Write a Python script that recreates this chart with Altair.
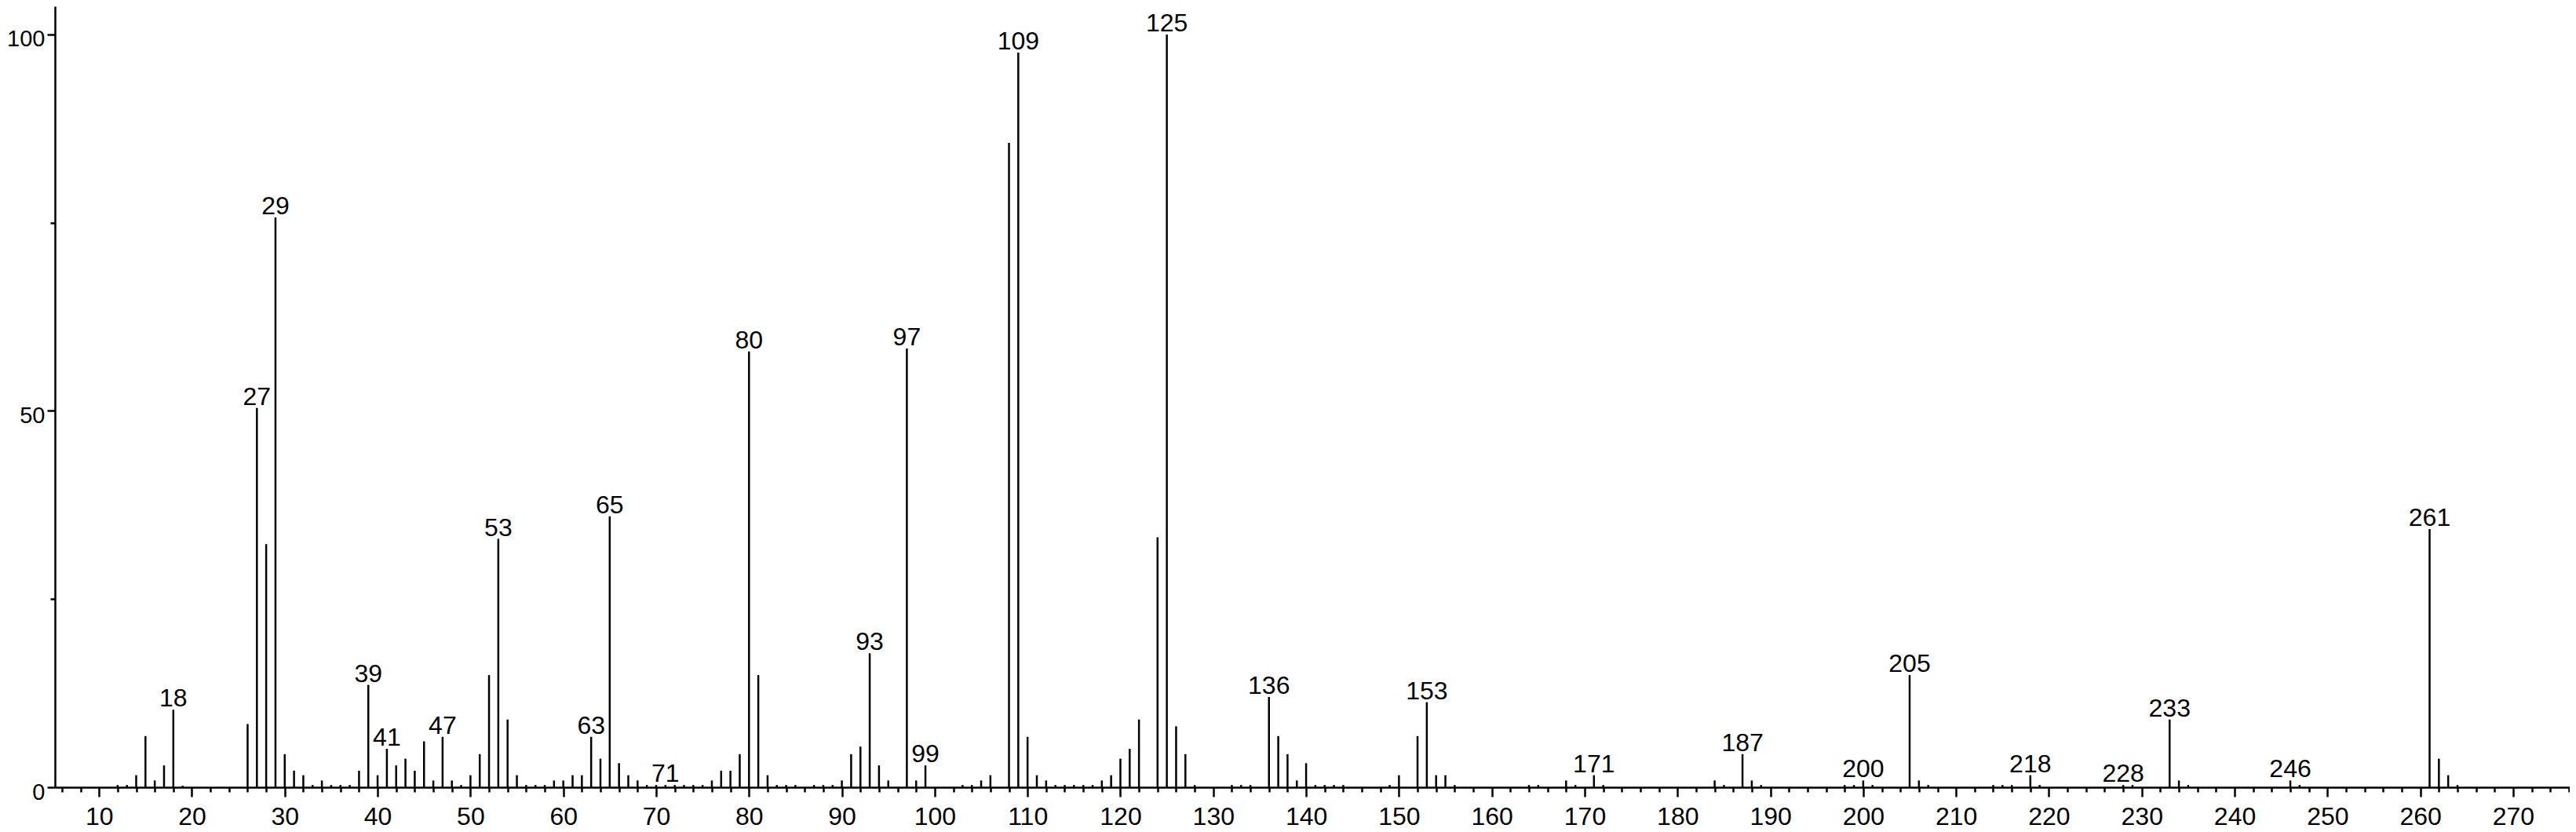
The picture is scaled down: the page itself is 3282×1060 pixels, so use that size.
import altair as alt
import pandas as pd

mz = [12, 13, 14, 15, 16, 17, 18, 19,
      26, 27, 28, 29, 30, 31, 32, 33, 34, 35, 36, 37, 38, 39, 40,
      41, 42, 43, 44, 45, 46, 47, 48, 49, 50,
      51, 52, 53, 54, 55, 56, 57, 58, 59, 60,
      61, 62, 63, 64, 65, 66, 67, 68, 69, 70,
      71, 72, 73, 74, 75, 76, 77, 78, 79, 80,
      81, 82, 83, 84, 85, 87, 88, 89, 90,
      91, 92, 93, 94, 95, 97, 98, 99,
      103, 104, 105, 106, 108, 109, 110,
      111, 112, 113, 114, 115, 116, 117, 118, 119, 120,
      121, 122, 124, 125, 126, 127, 128,
      132, 133, 134, 136, 137, 138, 139, 140,
      141, 142, 143, 144, 149, 150,
      152, 153, 154, 155, 156, 164, 165, 168, 169,
      171, 172, 184, 185, 187, 188, 189,
      198, 199, 200, 201, 205, 206, 207,
      214, 215, 216, 218, 219, 228, 229,
      233, 234, 235, 246, 247, 261, 262, 263, 264]

intensity = [0.3, 0.3, 1.6, 6.8, 0.9, 2.9, 10.3, 0.2,
             8.4, 50.4, 32.3, 75.7, 4.4, 2.2, 1.6, 0.3, 0.9, 0.3, 0.3, 0.3, 2.2, 13.6, 1.6,
             5.1, 2.9, 3.8, 2.2, 6.1, 0.9, 6.7, 0.9, 0.3, 1.6,
             4.4, 14.9, 33.0, 9.0, 1.6, 0.3, 0.3, 0.3, 0.9, 0.9,
             1.6, 1.6, 6.7, 3.8, 36.0, 3.2, 1.6, 0.9, 0.3, 0.3,
             0.3, 0.3, 0.3, 0.3, 0.3, 0.9, 2.2, 2.2, 4.4, 57.9,
             14.9, 1.6, 0.3, 0.3, 0.3, 0.3, 0.3, 0.3, 0.9,
             4.4, 5.4, 17.8, 2.9, 0.9, 58.3, 0.9, 2.9,
             0.3, 0.3, 0.9, 1.6, 85.6, 97.6, 6.7,
             1.6, 0.9, 0.3, 0.3, 0.3, 0.3, 0.3, 0.9, 1.6, 3.8,
             5.1, 9.0, 33.2, 100.0, 8.1, 4.4, 0.3,
             0.3, 0.3, 0.3, 12.0, 6.8, 4.4, 0.9, 3.2,
             0.3, 0.3, 0.3, 0.3, 0.3, 1.6,
             6.8, 11.3, 1.6, 1.6, 0.3, 0.3, 0.3, 0.9, 0.3,
             1.6, 0.3, 0.9, 0.3, 4.4, 0.9, 0.3,
             0.3, 0.3, 0.9, 0.3, 14.9, 0.9, 0.3,
             0.3, 0.3, 0.3, 1.6, 0.3, 0.3, 0.3,
             9.0, 0.9, 0.3, 0.9, 0.3, 34.3, 3.8, 1.6, 0.3]

labeled = [18, 27, 29, 39, 41, 47, 53, 63, 65, 71, 80, 93, 97, 99, 109, 125,
           136, 153, 171, 187, 200, 205, 218, 228, 233, 246, 261]

x_ticks = list(range(6, 277, 2))
y_ticks = [0, 25, 50, 75, 100]

df = pd.DataFrame({"mz": mz, "intensity": intensity})
df["label"] = df["mz"].astype(str)
lab_df = df[df["mz"].isin(labeled)]

FONT = "Liberation Sans"

x_scale = alt.Scale(domain=[5.25, 276.09], nice=False, zero=False)
y_scale = alt.Scale(domain=[0, 103.75], nice=False, zero=True)

x_axis = alt.Axis(
    values=x_ticks,
    labelExpr="datum.value % 10 === 0 ? datum.label : ''",
    tickSize={"condition": {"test": "datum.value % 10 === 0", "value": 12}, "value": 6},
    labelOverlap=False,
    grid=False,
    title=None,
    labelFont=FONT,
    labelFontSize=32,
    labelColor="black",
    labelPadding=10,
    domainColor="black",
    domainWidth=2.5,
    tickColor="black",
    tickWidth=2.5,
)
y_axis = alt.Axis(
    values=y_ticks,
    labelExpr="datum.value % 50 === 0 ? datum.label : ''",
    tickSize={"condition": {"test": "datum.value % 50 === 0", "value": 10}, "value": 6},
    labelOverlap=False,
    grid=False,
    title=None,
    labelFont=FONT,
    labelFontSize=29,
    labelColor="black",
    labelPadding=3,
    labelOffset=6,
    domainColor="black",
    domainWidth=2.5,
    tickColor="black",
    tickWidth=2.5,
)

bars = alt.Chart(df).mark_rule(color="black", strokeWidth=2.5).encode(
    x=alt.X("mz:Q", scale=x_scale, axis=x_axis),
    y=alt.Y("intensity:Q", scale=y_scale, axis=y_axis),
    y2=alt.datum(0),
)

texts = alt.Chart(lab_df).mark_text(
    baseline="alphabetic", align="center", dy=-4, fontSize=32, font=FONT, color="black"
).encode(
    x=alt.X("mz:Q", scale=x_scale, axis=x_axis),
    y=alt.Y("intensity:Q", scale=y_scale, axis=y_axis),
    text="label:N",
)

chart = alt.layer(bars, texts).properties(
    width=3204,
    height=995,
    padding={"left": 62, "top": 0, "right": 0, "bottom": 57},
    autosize=alt.AutoSizeParams(type="none"),
    background="white",
).configure_view(stroke=None)

chart.save("out.html", embed_options={"renderer": "svg", "actions": False})
